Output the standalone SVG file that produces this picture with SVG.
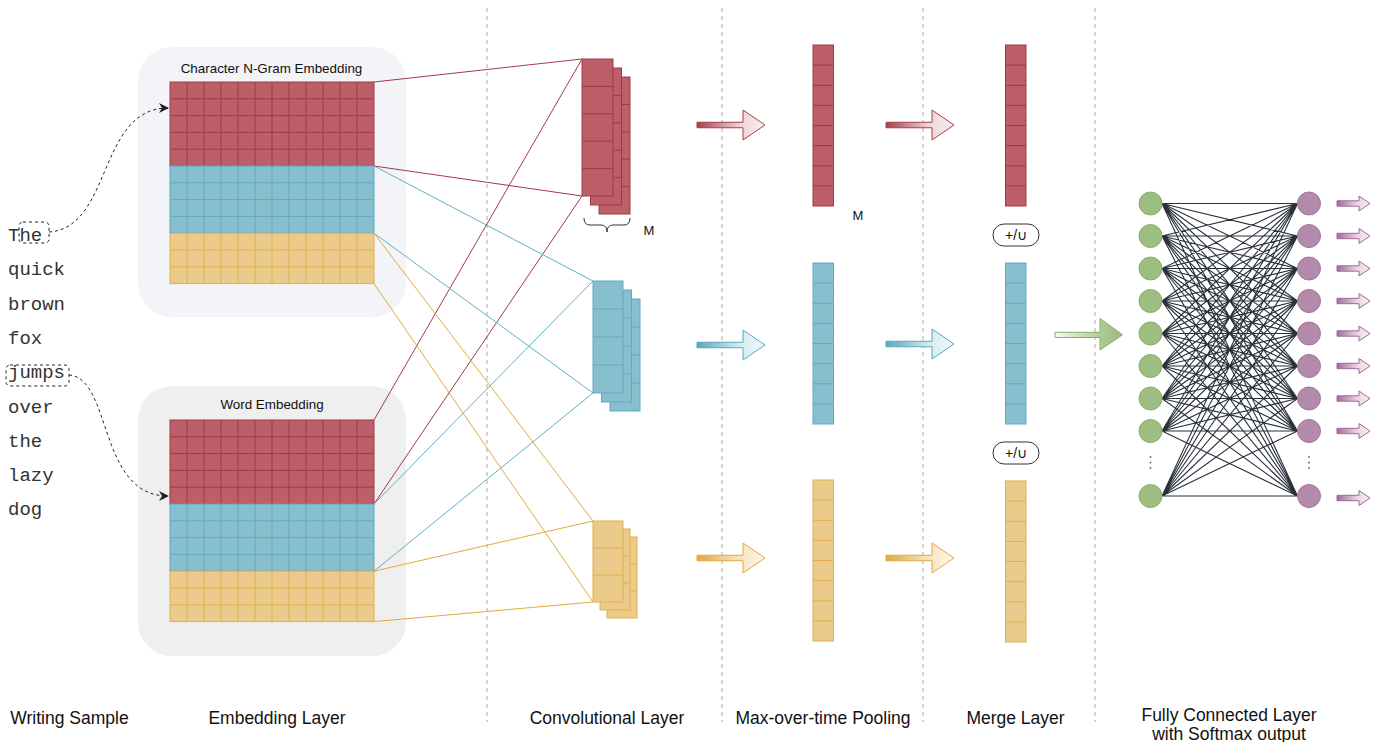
<svg xmlns="http://www.w3.org/2000/svg" xmlns:xlink="http://www.w3.org/1999/xlink" width="1385" height="742" viewBox="0 0 1385 742">
<style>
.lbl{font-family:"Liberation Sans",Arial,Helvetica,sans-serif;fill:#111;}
.mono{font-family:"Liberation Mono","Courier New",monospace;font-size:19px;fill:#333;}
.rf{fill:#bd5f69;stroke:#9e3a46;stroke-width:1;}
.rl{fill:none;stroke:#9e3a46;stroke-width:1;}
.bf{fill:#88bfce;stroke:#62a9c0;stroke-width:1;}
.bl{fill:none;stroke:#62a9c0;stroke-width:1;}
.yf{fill:#ebcb8c;stroke:#e3ae4a;stroke-width:1;}
.yl{fill:none;stroke:#e3ae4a;stroke-width:1;}
.sep{stroke:#a8a8a8;stroke-width:1;stroke-dasharray:4 4;fill:none;}
.dash{fill:none;stroke:#222;stroke-width:1;stroke-dasharray:3 3;}
.cr{stroke:#a33b47;stroke-width:1;fill:none;}
.cb{stroke:#62afc6;stroke-width:1;fill:none;}
.cy{stroke:#e1aa3f;stroke-width:1;fill:none;}
.fc{stroke:#2a313b;stroke-width:1.1;fill:none;}
.gn{fill:#9dbe81;stroke:#86b06a;stroke-width:1;}
.pn{fill:#b48aab;stroke:#a27599;stroke-width:1;}
.pill{fill:#fff;stroke:#333;stroke-width:1;}
</style>
<defs>
<linearGradient id="gRed" x1="0" y1="0" x2="1" y2="0"><stop offset="0" stop-color="#a63f4b"/><stop offset="0.62" stop-color="#ecd2d6"/><stop offset="1" stop-color="#faf0f1"/></linearGradient>
<linearGradient id="gBlue" x1="0" y1="0" x2="1" y2="0"><stop offset="0" stop-color="#5aa7be"/><stop offset="0.62" stop-color="#d2eaf1"/><stop offset="1" stop-color="#f0f9fb"/></linearGradient>
<linearGradient id="gYel" x1="0" y1="0" x2="1" y2="0"><stop offset="0" stop-color="#dfa93f"/><stop offset="0.62" stop-color="#f7e4bf"/><stop offset="1" stop-color="#fdf7ea"/></linearGradient>
<linearGradient id="gGreen" x1="0" y1="0" x2="1" y2="0"><stop offset="0" stop-color="#f6faf2"/><stop offset="0.6" stop-color="#b4cf9d"/><stop offset="1" stop-color="#98b97b"/></linearGradient>
<linearGradient id="gPurp" x1="0" y1="0" x2="1" y2="0"><stop offset="0" stop-color="#a6689a"/><stop offset="0.62" stop-color="#e8d6e4"/><stop offset="1" stop-color="#f8f1f6"/></linearGradient>
<marker id="ah" viewBox="0 0 10 10" refX="9" refY="5" markerWidth="10" markerHeight="10" markerUnits="userSpaceOnUse" orient="auto"><path d="M0,0 L10,5 L0,10 L3,5 Z" fill="#222"/></marker>
<path id="bigArrow" d="M0,-2.75 H46 V-15 L68,0 L46,15 V2.75 H0 Z"/>
<path id="smallArrow" d="M0,-2.7 H22 V-7.5 L33,0 L22,7.5 V2.7 H0 Z"/>
<g id="embGrid">
<rect class="rf" x="0" y="0" width="204" height="84"/>
<path class="rl" d="M17 0V84M34 0V84M51 0V84M68 0V84M85 0V84M102 0V84M119 0V84M136 0V84M153 0V84M170 0V84M187 0V84M0 16.8H204M0 33.6H204M0 50.4H204M0 67.2H204"/>
<rect class="bf" x="0" y="84" width="204" height="67.2"/>
<path class="bl" d="M17 84V151.2M34 84V151.2M51 84V151.2M68 84V151.2M85 84V151.2M102 84V151.2M119 84V151.2M136 84V151.2M153 84V151.2M170 84V151.2M187 84V151.2M0 100.8H204M0 117.6H204M0 134.4H204"/>
<rect class="yf" x="0" y="151.2" width="204" height="50.4"/>
<path class="yl" d="M17 151.2V201.6M34 151.2V201.6M51 151.2V201.6M68 151.2V201.6M85 151.2V201.6M102 151.2V201.6M119 151.2V201.6M136 151.2V201.6M153 151.2V201.6M170 151.2V201.6M187 151.2V201.6M0 168H204M0 184.8H204"/>
</g>
<g id="fR"><rect class="rf" x="0" y="0" width="31" height="137"/><path class="rl" d="M0 27.4H31M0 54.8H31M0 82.2H31M0 109.6H31"/></g>
<g id="fB"><rect class="bf" x="0" y="0" width="30" height="112"/><path class="bl" d="M0 28H30M0 56H30M0 84H30"/></g>
<g id="fY"><rect class="yf" x="0" y="0" width="30" height="81"/><path class="yl" d="M0 27H30M0 54H30"/></g>
<g id="cR"><rect class="rf" x="0" y="0" width="20.5" height="161"/><path class="rl" d="M0 20.1H20.5M0 40.3H20.5M0 60.4H20.5M0 80.5H20.5M0 100.6H20.5M0 120.8H20.5M0 140.9H20.5"/></g>
<g id="cB"><rect class="bf" x="0" y="0" width="20.5" height="161"/><path class="bl" d="M0 20.1H20.5M0 40.3H20.5M0 60.4H20.5M0 80.5H20.5M0 100.6H20.5M0 120.8H20.5M0 140.9H20.5"/></g>
<g id="cY"><rect class="yf" x="0" y="0" width="20.5" height="161"/><path class="yl" d="M0 20.1H20.5M0 40.3H20.5M0 60.4H20.5M0 80.5H20.5M0 100.6H20.5M0 120.8H20.5M0 140.9H20.5"/></g>
</defs>

<rect x="0" y="0" width="1385" height="742" fill="#ffffff"/>

<g id="separators">
<path class="sep" d="M487 8V722M722 8V722M923 8V722M1095 8V722"/>
</g>

<g id="writing-sample">
<text class="mono" x="8" y="241">The</text>
<text class="mono" x="8" y="275.3">quick</text>
<text class="mono" x="8" y="309.6">brown</text>
<text class="mono" x="8" y="343.9">fox</text>
<text class="mono" x="8" y="378.2">jumps</text>
<text class="mono" x="8" y="412.5">over</text>
<text class="mono" x="8" y="446.8">the</text>
<text class="mono" x="8" y="481.1">lazy</text>
<text class="mono" x="8" y="515.4">dog</text>
<rect class="dash" x="19" y="222" width="30" height="21" rx="4"/>
<rect class="dash" x="6" y="365" width="63" height="21" rx="4"/>
</g>

<g id="emb-char">
<rect x="138" y="47" width="268" height="270" rx="34" fill="#f3f4f8"/>
<text class="lbl" x="271.5" y="73" font-size="13.4" text-anchor="middle">Character N-Gram Embedding</text>
<use href="#embGrid" x="170" y="82"/>
</g>

<g id="emb-word">
<rect x="138" y="386" width="268" height="270" rx="34" fill="#efefef"/>
<text class="lbl" x="272" y="409" font-size="13.4" text-anchor="middle">Word Embedding</text>
<use href="#embGrid" x="170" y="420"/>
</g>

<g id="connectors">
<path class="dash" d="M49,232 C112,228 98,108 168,108" marker-end="url(#ah)"/>
<path class="dash" d="M69,375 C112,378 98,496 168,496" marker-end="url(#ah)"/>
<path class="cr" d="M374 82L582 59M374 166L582 196M374 420L582 59M374 504L582 196"/>
<path class="cb" d="M374 166L593 281M374 233.2L593 393M374 504L593 281M374 571.2L593 393"/>
<path class="cy" d="M374 233.2L593 521M374 283.6L593 602M374 571.2L593 521M374 621.6L593 602"/>
<use href="#bigArrow" transform="translate(697,125)" fill="url(#gRed)" stroke="#a63f4b" stroke-width="1"/>
<use href="#bigArrow" transform="translate(886,125)" fill="url(#gRed)" stroke="#a63f4b" stroke-width="1"/>
<use href="#bigArrow" transform="translate(697,345)" fill="url(#gBlue)" stroke="#5aa7be" stroke-width="1"/>
<use href="#bigArrow" transform="translate(886,344)" fill="url(#gBlue)" stroke="#5aa7be" stroke-width="1"/>
<use href="#bigArrow" transform="translate(697,558)" fill="url(#gYel)" stroke="#dfa93f" stroke-width="1"/>
<use href="#bigArrow" transform="translate(886,558)" fill="url(#gYel)" stroke="#dfa93f" stroke-width="1"/>
<path d="M1055,332.3 H1100 V318.5 L1122.5,334.8 L1100,350 V337.5 H1055 Z" fill="url(#gGreen)" stroke="#86b06a" stroke-width="1"/>
<path class="fc" d="M1162 203.5L1297.5 203.5M1162 203.5L1297.5 236M1162 203.5L1297.5 268.5M1162 203.5L1297.5 301M1162 203.5L1297.5 333.5M1162 203.5L1297.5 366M1162 203.5L1297.5 398.5M1162 203.5L1297.5 431M1162 203.5L1297.5 496
M1162 236L1297.5 203.5M1162 236L1297.5 236M1162 236L1297.5 268.5M1162 236L1297.5 301M1162 236L1297.5 333.5M1162 236L1297.5 366M1162 236L1297.5 398.5M1162 236L1297.5 431M1162 236L1297.5 496
M1162 268.5L1297.5 203.5M1162 268.5L1297.5 236M1162 268.5L1297.5 268.5M1162 268.5L1297.5 301M1162 268.5L1297.5 333.5M1162 268.5L1297.5 366M1162 268.5L1297.5 398.5M1162 268.5L1297.5 431M1162 268.5L1297.5 496
M1162 301L1297.5 203.5M1162 301L1297.5 236M1162 301L1297.5 268.5M1162 301L1297.5 301M1162 301L1297.5 333.5M1162 301L1297.5 366M1162 301L1297.5 398.5M1162 301L1297.5 431M1162 301L1297.5 496
M1162 333.5L1297.5 203.5M1162 333.5L1297.5 236M1162 333.5L1297.5 268.5M1162 333.5L1297.5 301M1162 333.5L1297.5 333.5M1162 333.5L1297.5 366M1162 333.5L1297.5 398.5M1162 333.5L1297.5 431M1162 333.5L1297.5 496
M1162 366L1297.5 203.5M1162 366L1297.5 236M1162 366L1297.5 268.5M1162 366L1297.5 301M1162 366L1297.5 333.5M1162 366L1297.5 366M1162 366L1297.5 398.5M1162 366L1297.5 431M1162 366L1297.5 496
M1162 398.5L1297.5 203.5M1162 398.5L1297.5 236M1162 398.5L1297.5 268.5M1162 398.5L1297.5 301M1162 398.5L1297.5 333.5M1162 398.5L1297.5 366M1162 398.5L1297.5 398.5M1162 398.5L1297.5 431M1162 398.5L1297.5 496
M1162 431L1297.5 203.5M1162 431L1297.5 236M1162 431L1297.5 268.5M1162 431L1297.5 301M1162 431L1297.5 333.5M1162 431L1297.5 366M1162 431L1297.5 398.5M1162 431L1297.5 431M1162 431L1297.5 496
M1162 496L1297.5 203.5M1162 496L1297.5 236M1162 496L1297.5 268.5M1162 496L1297.5 301M1162 496L1297.5 333.5M1162 496L1297.5 366M1162 496L1297.5 398.5M1162 496L1297.5 431M1162 496L1297.5 496"/>
<use href="#smallArrow" transform="translate(1337,203.5)" fill="url(#gPurp)" stroke="#a06a98" stroke-width="1"/>
<use href="#smallArrow" transform="translate(1337,236)" fill="url(#gPurp)" stroke="#a06a98" stroke-width="1"/>
<use href="#smallArrow" transform="translate(1337,268.5)" fill="url(#gPurp)" stroke="#a06a98" stroke-width="1"/>
<use href="#smallArrow" transform="translate(1337,301)" fill="url(#gPurp)" stroke="#a06a98" stroke-width="1"/>
<use href="#smallArrow" transform="translate(1337,333.5)" fill="url(#gPurp)" stroke="#a06a98" stroke-width="1"/>
<use href="#smallArrow" transform="translate(1337,366)" fill="url(#gPurp)" stroke="#a06a98" stroke-width="1"/>
<use href="#smallArrow" transform="translate(1337,398.5)" fill="url(#gPurp)" stroke="#a06a98" stroke-width="1"/>
<use href="#smallArrow" transform="translate(1337,431)" fill="url(#gPurp)" stroke="#a06a98" stroke-width="1"/>
<use href="#smallArrow" transform="translate(1337,498)" fill="url(#gPurp)" stroke="#a06a98" stroke-width="1"/>
</g>

<g id="conv-red">
<use href="#fR" x="599" y="77"/>
<use href="#fR" x="590.5" y="68"/>
<use href="#fR" x="582" y="59"/>
<path d="M584,218 Q584,225 590,225 L601,225 Q607,225 607,232 Q607,225 613,225 L624,225 Q630,225 630,218" fill="none" stroke="#333" stroke-width="1"/>
<text class="lbl" x="643.5" y="235" font-size="13">M</text>
</g>
<g id="conv-blue">
<use href="#fB" x="610" y="299"/>
<use href="#fB" x="601.5" y="290"/>
<use href="#fB" x="593" y="281"/>
</g>
<g id="conv-yellow">
<use href="#fY" x="607" y="537"/>
<use href="#fY" x="600" y="529"/>
<use href="#fY" x="593" y="521"/>
</g>

<g id="pool-red"><use href="#cR" x="813" y="45"/><text class="lbl" x="852.5" y="220" font-size="13">M</text></g>
<g id="pool-blue"><use href="#cB" x="813" y="263"/></g>
<g id="pool-yellow"><use href="#cY" x="813" y="480"/></g>

<g id="merge-red"><use href="#cR" x="1005.5" y="45"/></g>
<g id="merge-op-1"><rect class="pill" x="993" y="224" width="46" height="22" rx="11"/><text class="lbl" x="1016" y="240" font-size="14" text-anchor="middle">+/∪</text></g>
<g id="merge-blue"><use href="#cB" x="1005.5" y="263"/></g>
<g id="merge-op-2"><rect class="pill" x="993" y="442" width="46" height="22" rx="11"/><text class="lbl" x="1016" y="458" font-size="14" text-anchor="middle">+/∪</text></g>
<g id="merge-yellow"><use href="#cY" x="1005.5" y="481"/></g>

<g id="fc-input">
<circle class="gn" cx="1150.5" cy="203.5" r="11.5"/>
<circle class="gn" cx="1150.5" cy="236" r="11.5"/>
<circle class="gn" cx="1150.5" cy="268.5" r="11.5"/>
<circle class="gn" cx="1150.5" cy="301" r="11.5"/>
<circle class="gn" cx="1150.5" cy="333.5" r="11.5"/>
<circle class="gn" cx="1150.5" cy="366" r="11.5"/>
<circle class="gn" cx="1150.5" cy="398.5" r="11.5"/>
<circle class="gn" cx="1150.5" cy="431" r="11.5"/>
<circle class="gn" cx="1150.5" cy="496" r="11.5"/>
<circle cx="1150.5" cy="457" r="0.9" fill="#666"/>
<circle cx="1150.5" cy="462.5" r="0.9" fill="#666"/>
<circle cx="1150.5" cy="468" r="0.9" fill="#666"/>
</g>
<g id="fc-output">
<circle class="pn" cx="1309" cy="203.5" r="11.5"/>
<circle class="pn" cx="1309" cy="236" r="11.5"/>
<circle class="pn" cx="1309" cy="268.5" r="11.5"/>
<circle class="pn" cx="1309" cy="301" r="11.5"/>
<circle class="pn" cx="1309" cy="333.5" r="11.5"/>
<circle class="pn" cx="1309" cy="366" r="11.5"/>
<circle class="pn" cx="1309" cy="398.5" r="11.5"/>
<circle class="pn" cx="1309" cy="431" r="11.5"/>
<circle class="pn" cx="1309" cy="496" r="11.5"/>
<circle cx="1309" cy="457" r="0.9" fill="#666"/>
<circle cx="1309" cy="462.5" r="0.9" fill="#666"/>
<circle cx="1309" cy="468" r="0.9" fill="#666"/>
</g>

<g id="labels">
<text class="lbl" x="69.5" y="724" font-size="17.5" text-anchor="middle">Writing Sample</text>
<text class="lbl" x="277" y="724" font-size="17.5" text-anchor="middle">Embedding Layer</text>
<text class="lbl" x="607" y="724" font-size="17.5" text-anchor="middle">Convolutional Layer</text>
<text class="lbl" x="823" y="724" font-size="17.5" text-anchor="middle">Max-over-time Pooling</text>
<text class="lbl" x="1015.5" y="724" font-size="17.5" text-anchor="middle">Merge Layer</text>
<text class="lbl" x="1229" y="721" font-size="17.5" text-anchor="middle">Fully Connected Layer</text>
<text class="lbl" x="1229" y="739.5" font-size="17.5" text-anchor="middle">with Softmax output</text>
</g>
</svg>
